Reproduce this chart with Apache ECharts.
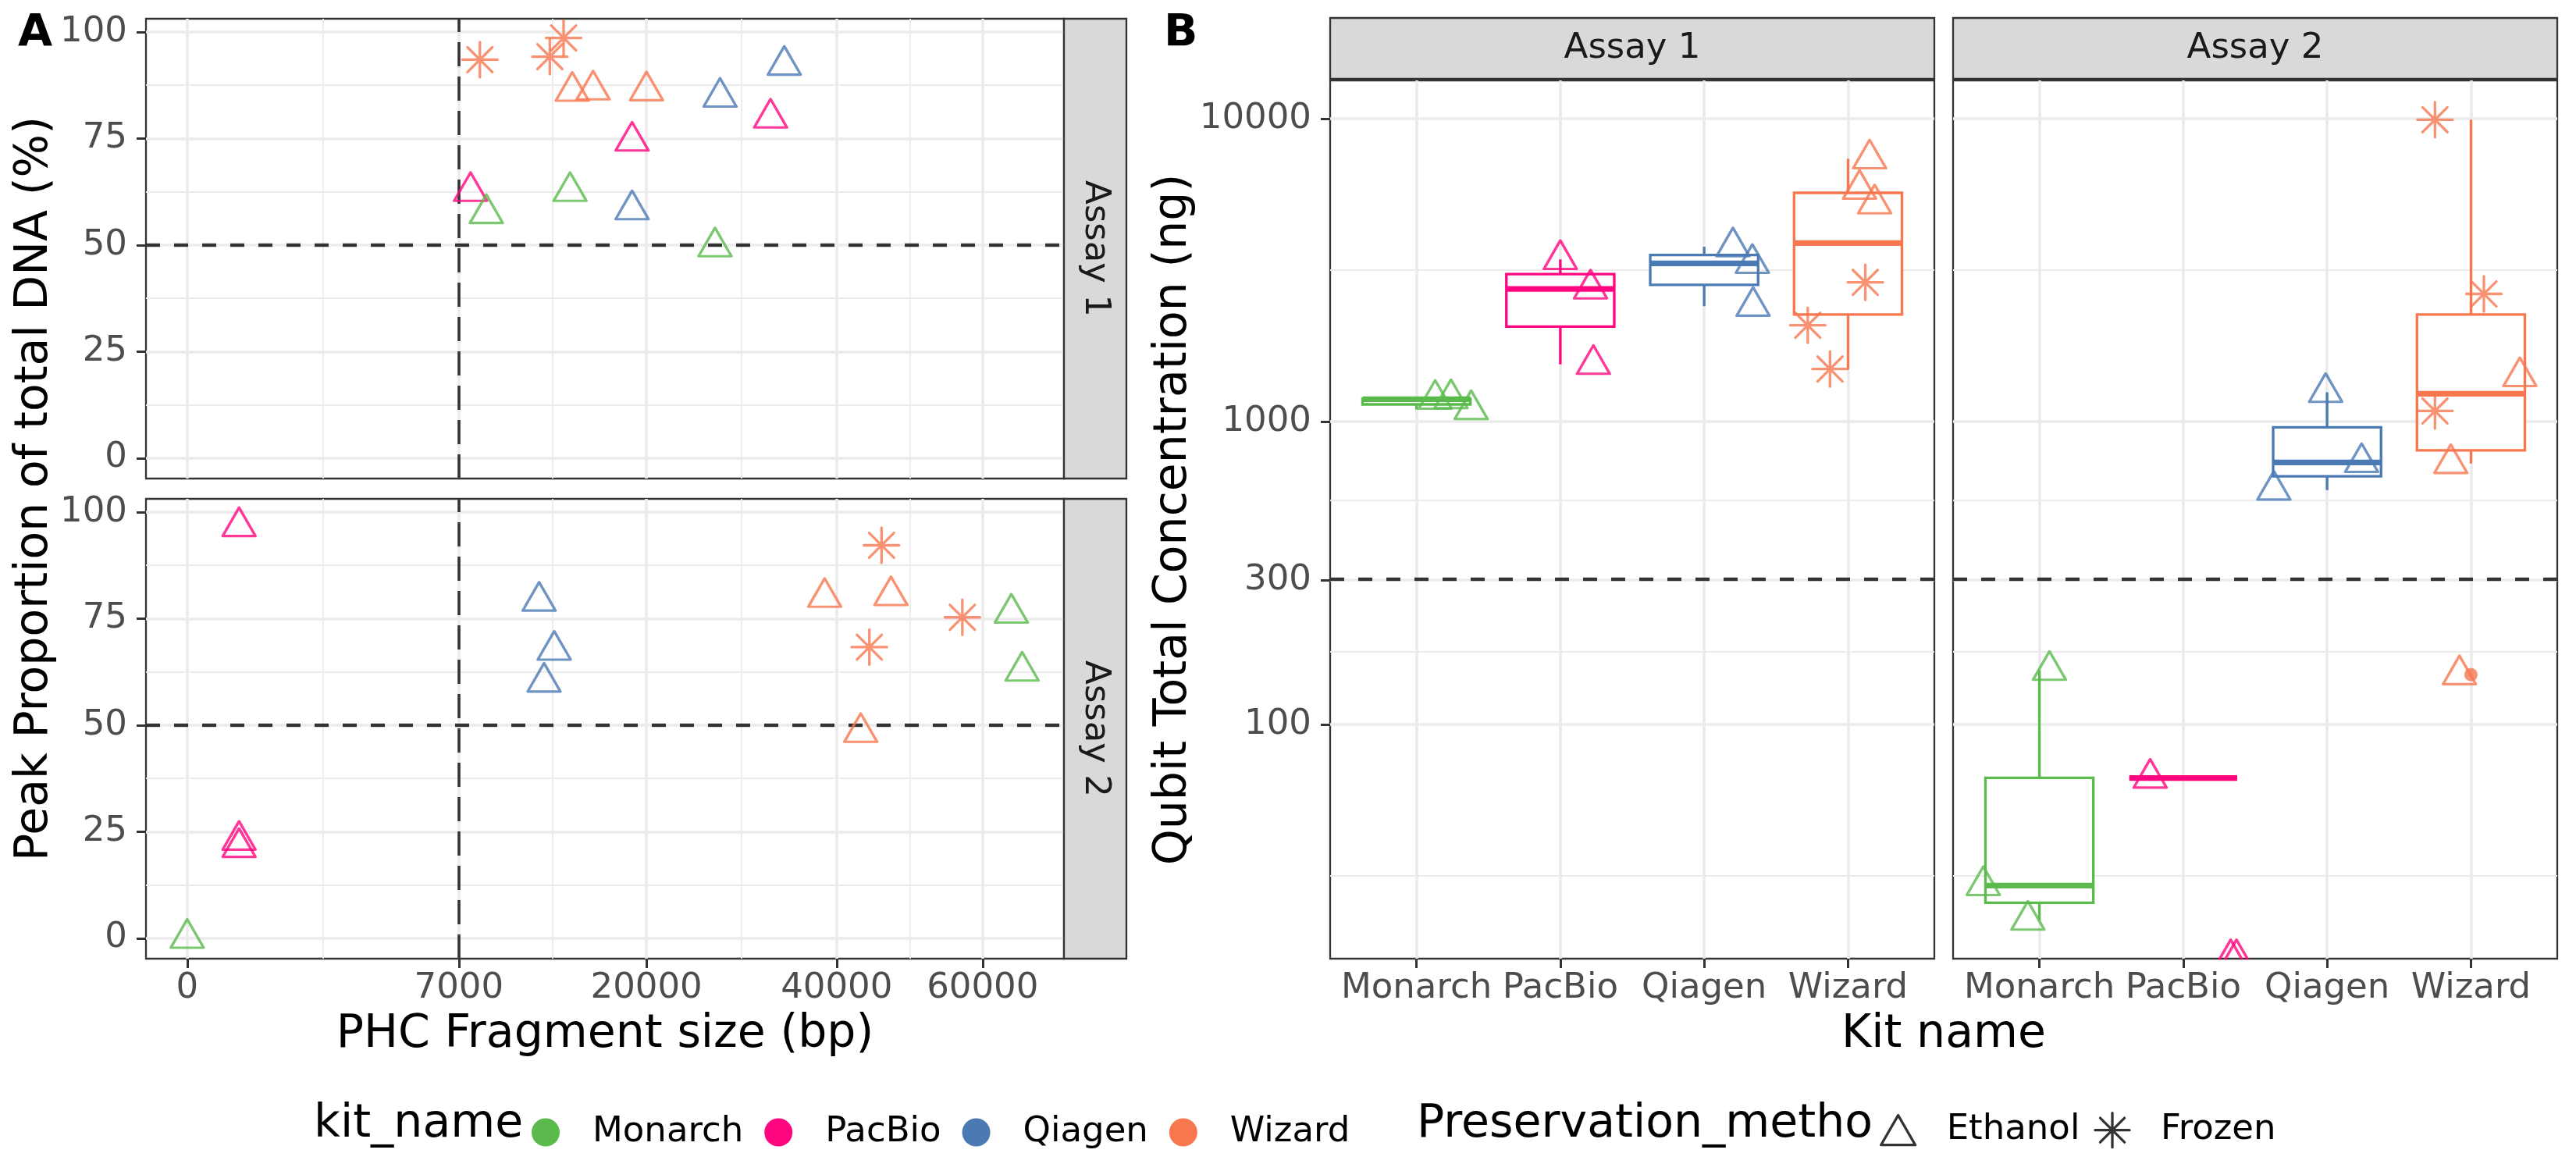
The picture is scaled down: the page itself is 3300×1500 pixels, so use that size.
<!DOCTYPE html>
<html><head><meta charset="utf-8">
<script src="https://cdn.jsdelivr.net/npm/echarts@6/dist/echarts.min.js"></script>
<style>html,body{margin:0;padding:0;background:#fff}#chart{width:3300px;height:1500px}</style>
</head><body><div id="chart"></div>
<script>
// ---------------- data ----------------
const kitNames = ['Monarch', 'PacBio', 'Qiagen', 'Wizard'];
const assayNames = ['Assay 1', 'Assay 2'];
const methodNames = ['Ethanol', 'Frozen'];

// Panel A: peak fragment size vs peak proportion
const fragAssay = [1,1,1,1,1,1,1,1,1,1,1,1,1,1,1, 2,2,2,2,2,2,2,2,2,2,2,2,2,2,2];
const fragKit = ['Wizard','Wizard','Wizard','Wizard','Wizard','Wizard','Qiagen','Qiagen','Qiagen','PacBio','PacBio','PacBio','Monarch','Monarch','Monarch',
                 'PacBio','PacBio','PacBio','Monarch','Qiagen','Qiagen','Qiagen','Wizard','Wizard','Wizard','Wizard','Wizard','Wizard','Monarch','Monarch'];
const fragMethod = ['Frozen','Frozen','Frozen','Ethanol','Ethanol','Ethanol','Ethanol','Ethanol','Ethanol','Ethanol','Ethanol','Ethanol','Ethanol','Ethanol','Ethanol',
                    'Ethanol','Ethanol','Ethanol','Ethanol','Ethanol','Ethanol','Ethanol','Ethanol','Ethanol','Ethanol','Frozen','Frozen','Frozen','Ethanol','Ethanol'];
const fragSizeBp = [8125,12470,13436,14060,15625,20005,26925,33810,18770,32270,18770,7614,8486,13900,26415,
                    255,255,255,0,11744,12774,12077,38534,46970,43020,45720,44130,56980,64410,66110];
const fragPeakPct = [93.5,94.2,98.6,86.1,86.4,86.2,84.7,92.2,58.3,79.8,74.4,62.6,57.4,62.6,49.6,
                     96.6,23.0,21.3,0,79.1,67.6,60.1,80.0,80.4,48.3,92.2,68.3,75.3,76.3,62.7];
const fragTicks = [0, 7000, 20000, 40000, 60000];
const peakTicks = [0, 25, 50, 75, 100];
const fragThreshold = 7000;
const peakThreshold = 50;

// Panel B: Qubit concentration per kit (0 = below detection, drawn at -Inf)
const qubitAssay = [1,1,1, 1,1,1, 1,1,1, 1,1,1,1,1,1, 2,2,2, 2,2,2, 2,2,2, 2,2,2,2,2,2];
const qubitKit = ['Monarch','Monarch','Monarch','PacBio','PacBio','PacBio','Qiagen','Qiagen','Qiagen','Wizard','Wizard','Wizard','Wizard','Wizard','Wizard',
                  'Monarch','Monarch','Monarch','PacBio','PacBio','PacBio','Qiagen','Qiagen','Qiagen','Wizard','Wizard','Wizard','Wizard','Wizard','Wizard'];
const qubitMethod = ['Ethanol','Ethanol','Ethanol','Ethanol','Ethanol','Ethanol','Ethanol','Ethanol','Ethanol','Ethanol','Ethanol','Ethanol','Frozen','Frozen','Frozen',
                     'Ethanol','Ethanol','Ethanol','Ethanol','Ethanol','Ethanol','Ethanol','Ethanol','Ethanol','Frozen','Frozen','Ethanol','Frozen','Ethanol','Ethanol'];
const qubitConcNg = [1185,1191,1096, 3430,2742,1545, 3777,3330,2403, 7371,5851,5236,2881,2079,1491,
                     151,29.4,22.6, 66.5,0,0, 1249,733,594, 9920,2639,1408,1084,727,146];
const qubitJitter = [0.13,0.24,0.38, 0.00,0.21,0.23, 0.20,0.335,0.34, 0.15,0.08,0.185,0.12,-0.28,-0.125,
                     0.07,-0.39,-0.08, -0.23,0.33,0.37, -0.01,0.24,-0.37, -0.25,0.09,0.34,-0.25,-0.14,-0.08];
const concTicks = [100, 300, 1000, 10000];
const concMinorTicks = [31.6, 173.2, 547.7, 3162.3];
const concThreshold = 300;

// ---------------- styles / layout ----------------
const FONT = 'DejaVu Sans';
const kitColors = ['#5ABA4C', '#FF0580', '#4B79B4', '#F8774F'];
const GRID_A = [{left:187, top:24, width:1176, height:589}, {left:187, top:639, width:1176, height:589}];
const GRID_B = [{left:1704, top:103, width:774, height:1125}, {left:2502, top:103, width:774, height:1125}];
const fragRange = [-12.7, 270.0];     // sqrt(bp) scale
const peakRange = [-4.8, 103.1];
const concRange = [1.2268, 4.1263];   // log10(ng) scale
const kitRange = [0.4, 4.6];
const BOX_WIDTH = 0.75;
const STROKE = 3.3;
const TRI_SIZE = [42, 36.4];
const TITLE_SIZE = 58.5;
const AST_PATH = 'path://M0,-1L0,1M-1,0L1,0M-0.7071,-0.7071L0.7071,0.7071M-0.7071,0.7071L0.7071,-0.7071';
const TRI_PATH = 'path://M0,0.866L0.5,0L1,0.866Z';
const TRI_TOP_PATH = 'path://M0,1L0.57735,0L1.1547,1';
const GRID_MAJOR = {color:'#EBEBEB', width:3.6};
const GRID_MINOR = {color:'#EBEBEB', width:1.8, type:'solid'};
const TICK = {show:true, length:12, lineStyle:{color:'#333333', width:3}};
const LABEL = {show:true, fontSize:45, color:'#4D4D4D', fontFamily:FONT};

const kitColor = k => kitColors[kitNames.indexOf(k)];
const fragTickPos = fragTicks.map(Math.sqrt);
const fragMinorPos = fragTickPos.slice(1).map((v, i) => (v + fragTickPos[i]) / 2);
const peakMinor = peakTicks.slice(1).map((v, i) => (v + peakTicks[i]) / 2);
const concTickPos = concTicks.map(Math.log10);
const concMinorPos = concMinorTicks.map(Math.log10);

function symbolFor(method) {
  return method === 'Frozen'
    ? {symbol: AST_PATH, symbolSize: 45, symbolOffset: [0, 0]}
    : {symbol: 'triangle', symbolSize: TRI_SIZE, symbolOffset: [0, -TRI_SIZE[1] / 6]};
}

// type-7 quantile
function quantile(sorted, p) {
  const h = (sorted.length - 1) * p;
  const lo = Math.floor(h);
  const hi = Math.min(lo + 1, sorted.length - 1);
  return sorted[lo] + (h - lo) * (sorted[hi] - sorted[lo]);
}
function boxStats(vals) {
  const s = vals.slice().sort((a, b) => a - b);
  const q1 = quantile(s, 0.25), med = quantile(s, 0.5), q3 = quantile(s, 0.75);
  const iqr = q3 - q1;
  const inside = s.filter(v => v >= q1 - 1.5 * iqr && v <= q3 + 1.5 * iqr);
  return {lo: inside[0], q1, med, q3, hi: inside[inside.length - 1],
          out: s.filter(v => v < q1 - 1.5 * iqr || v > q3 + 1.5 * iqr)};
}

function valAxis(o) {
  return Object.assign({
    type: 'value', axisLine: {show: false, onZero: false}, axisTick: {show: false}, axisLabel: {show: false},
    splitLine: {show: false}
  }, o);
}
function minorGrid(items) {
  return {silent: true, symbol: ['none', 'none'], label: {show: false}, z: 1, animation: false,
    lineStyle: GRID_MINOR, emphasis: {disabled: true}, data: items};
}

const grids = [...GRID_A, ...GRID_B].map(g => Object.assign({
  show: true, borderColor: '#333333', borderWidth: 2.3
}, g));

const fragFmt = v => { const i = fragTickPos.findIndex(t => Math.abs(t - v) < 1e-6); return i >= 0 ? String(fragTicks[i]) : ''; };
const xAxes = [];
const yAxes = [];
for (let g = 0; g < 2; g++) {
  const bottom = g === 1;
  const xa = valAxis({gridIndex: g, min: fragRange[0], max: fragRange[1], position: 'bottom',
    axisTick: Object.assign({}, TICK, {show: bottom, customValues: fragTickPos}),
    axisLabel: Object.assign({}, LABEL, {show: bottom, customValues: fragTickPos, formatter: fragFmt, margin: 38, verticalAlign: 'middle'}),
    splitLine: {show: true, lineStyle: GRID_MAJOR}});
  if (bottom) Object.assign(xa, {name: 'PHC Fragment size (bp)', nameLocation: 'middle', nameGap: 98,
    nameTextStyle: {fontSize: TITLE_SIZE, color: '#000', fontFamily: FONT, verticalAlign: 'middle'}});
  xAxes.push(xa);
  yAxes.push(valAxis({gridIndex: g, min: peakRange[0], max: peakRange[1], position: 'left',
    axisTick: Object.assign({}, TICK, {customValues: peakTicks}),
    axisLabel: Object.assign({}, LABEL, {customValues: peakTicks, margin: 24}),
    splitLine: {show: true, lineStyle: GRID_MAJOR}}));
}
const kitPos = kitNames.map((k, i) => i + 1);
for (let g = 0; g < 2; g++) {
  xAxes.push(valAxis({gridIndex: 2 + g, min: kitRange[0], max: kitRange[1], position: 'bottom',
    axisTick: Object.assign({}, TICK, {customValues: kitPos}),
    axisLabel: Object.assign({}, LABEL, {customValues: kitPos, formatter: v => kitNames[Math.round(v) - 1], margin: 38, verticalAlign: 'middle'}),
    splitLine: {show: true, lineStyle: GRID_MAJOR}}));
  const ya = valAxis({gridIndex: 2 + g, min: concRange[0], max: concRange[1], position: 'left',
    axisTick: Object.assign({}, TICK, {show: g === 0, customValues: concTickPos}),
    axisLabel: Object.assign({}, LABEL, {show: g === 0, customValues: concTickPos, margin: 24,
      formatter: v => String(Math.round(Math.pow(10, v)))}),
    splitLine: {show: true, lineStyle: GRID_MAJOR}});
  if (g === 0) Object.assign(ya, {name: 'Qubit Total Concentration (ng)', nameLocation: 'middle', nameGap: 193,
    nameTextStyle: {fontSize: TITLE_SIZE, color: '#000', fontFamily: FONT, verticalAlign: 'middle'}});
  yAxes.push(ya);
}
// axis indices: A1 0, A2 1, B1 2, B2 3

const pointStyle = {color: 'rgba(0,0,0,0)', borderWidth: STROKE, borderJoin: 'round', borderCap: 'round'};
const series = [];

// Panel A scatter
for (let g = 0; g < 2; g++) {
  methodNames.forEach((m, mi) => {
    const data = [];
    fragSizeBp.forEach((bp, i) => {
      if (fragAssay[i] === g + 1 && fragMethod[i] === m) {
        data.push({value: [Math.sqrt(bp), fragPeakPct[i]], itemStyle: {borderColor: kitColor(fragKit[i])}});
      }
    });
    const s = Object.assign({type: 'scatter', name: m, xAxisIndex: g, yAxisIndex: g, data,
      itemStyle: pointStyle, silent: true, z: 3}, symbolFor(m));
    if (mi === 0) {
      s.markLine = {silent: true, symbol: ['none', 'none'], label: {show: false}, z: 2,
        data: [
          {xAxis: Math.sqrt(fragThreshold), lineStyle: {color: '#333333', width: 3.6, type: [31, 13]}},
          {yAxis: peakThreshold, lineStyle: {color: '#333333', width: 4.4, type: [18, 18]}}
        ]};
    } else {
      s.markLine = minorGrid([...fragMinorPos.map(v => ({xAxis: v})), ...peakMinor.map(v => ({yAxis: v}))]);
    }
    series.push(s);
  });
}

// Panel B boxplots
function renderBox(params, api) {
  const x = api.value(0);
  const color = api.visual('color');
  const half = api.size([BOX_WIDTH, 0])[0] / 2;
  const pLo = api.coord([x, api.value(1)]), pQ1 = api.coord([x, api.value(2)]);
  const pMed = api.coord([x, api.value(3)]), pQ3 = api.coord([x, api.value(4)]);
  const pHi = api.coord([x, api.value(5)]);
  const ls = {stroke: color, lineWidth: STROKE};
  return {type: 'group', children: [
    {type: 'line', shape: {x1: pLo[0], y1: pLo[1], x2: pQ1[0], y2: pQ1[1]}, style: ls},
    {type: 'line', shape: {x1: pQ3[0], y1: pQ3[1], x2: pHi[0], y2: pHi[1]}, style: ls},
    {type: 'rect', shape: {x: pQ3[0] - half, y: pQ3[1], width: 2 * half, height: pQ1[1] - pQ3[1]},
     style: {fill: '#fff', stroke: color, lineWidth: STROKE}},
    {type: 'line', shape: {x1: pMed[0] - half, y1: pMed[1], x2: pMed[0] + half, y2: pMed[1]},
     style: {stroke: color, lineWidth: 2.2 * STROKE}}
  ]};
}
for (let g = 0; g < 2; g++) {
  kitNames.forEach((k, ki) => {
    const logs = [];
    qubitConcNg.forEach((c, i) => {
      if (qubitAssay[i] === g + 1 && qubitKit[i] === k && c > 0) logs.push(Math.log10(c));
    });
    const st = boxStats(logs);
    const bs = {type: 'custom', name: k, xAxisIndex: 2 + g, yAxisIndex: 2 + g, silent: true, z: 2,
      itemStyle: {color: kitColors[ki]}, renderItem: renderBox,
      encode: {x: 0, y: [1, 2, 3, 4, 5]},
      data: [[ki + 1, st.lo, st.q1, st.med, st.q3, st.hi]]};
    if (ki === 0) bs.markLine = minorGrid(concMinorPos.map(v => ({yAxis: v})));
    series.push(bs);
    if (st.out.length) {
      series.push({type: 'scatter', name: k, xAxisIndex: 2 + g, yAxisIndex: 2 + g, silent: true, z: 2,
        symbol: 'circle', symbolSize: 17, itemStyle: {color: kitColors[ki]},
        data: st.out.map(v => [ki + 1, v])});
    }
  });
}
// Panel B jittered points
for (let g = 0; g < 2; g++) {
  methodNames.forEach((m, mi) => {
    const data = [];
    qubitConcNg.forEach((c, i) => {
      if (qubitAssay[i] === g + 1 && qubitMethod[i] === m) {
        const x = kitNames.indexOf(qubitKit[i]) + 1 + qubitJitter[i];
        const item = {value: [x, c > 0 ? Math.log10(c) : concRange[0]], itemStyle: {borderColor: kitColor(qubitKit[i])}};
        if (!(c > 0)) {   // -Inf: only upper part of the symbol is inside the panel
          Object.assign(item, {symbol: TRI_TOP_PATH, symbolSize: [28, 24.3], symbolOffset: [0, -12.15]});
        }
        data.push(item);
      }
    });
    const s = Object.assign({type: 'scatter', name: m, xAxisIndex: 2 + g, yAxisIndex: 2 + g, data,
      itemStyle: pointStyle, silent: true, z: 3}, symbolFor(m));
    if (mi === 0) {
      s.markLine = {silent: true, symbol: ['none', 'none'], label: {show: false}, z: 2,
        data: [{yAxis: Math.log10(concThreshold), lineStyle: {color: '#333333', width: 4.4, type: [18, 18]}}]};
    }
    series.push(s);
  });
}

// ---------------- graphic (strips, tags, titles) ----------------
const stripStyle = {fill: '#D9D9D9', stroke: '#333333', lineWidth: 2.3};
const stripText = {fontSize: 45, fontFamily: FONT, fill: '#1A1A1A', align: 'center', verticalAlign: 'middle'};
const graphic = [];
GRID_A.forEach((g, i) => {
  graphic.push({type: 'rect', shape: {x: g.left + g.width, y: g.top, width: 80, height: g.height}, style: stripStyle, z: 10});
  graphic.push({type: 'text', x: g.left + g.width + 40, y: g.top + g.height / 2, rotation: -Math.PI / 2,
    style: Object.assign({text: assayNames[i]}, stripText), z: 11});
});
GRID_B.forEach((g, i) => {
  graphic.push({type: 'rect', shape: {x: g.left, y: 23, width: g.width, height: 78}, style: stripStyle, z: 10});
  graphic.push({type: 'text', x: g.left + g.width / 2, y: 62, style: Object.assign({text: assayNames[i]}, stripText), z: 11});
});
const titleStyle = {fontSize: TITLE_SIZE, fontFamily: FONT, fill: '#000', align: 'center', verticalAlign: 'middle'};
graphic.push({type: 'text', x: 45, y: 626, rotation: Math.PI / 2, style: Object.assign({text: 'Peak Proportion of total DNA (%)'}, titleStyle)});
graphic.push({type: 'text', x: 2490, y: 1326, style: Object.assign({text: 'Kit name'}, titleStyle)});
graphic.push({type: 'text', x: 23, y: 44, style: {text: 'A', fontSize: 57, fontWeight: 'bold', fontFamily: FONT, fill: '#000', align: 'left', verticalAlign: 'middle'}});
graphic.push({type: 'text', x: 1491, y: 44, style: {text: 'B', fontSize: 57, fontWeight: 'bold', fontFamily: FONT, fill: '#000', align: 'left', verticalAlign: 'middle'}});
graphic.push({type: 'text', x: 402, y: 1441, style: Object.assign({}, titleStyle, {text: 'kit_name', align: 'left'})});
graphic.push({type: 'text', x: 1815, y: 1441, style: Object.assign({}, titleStyle, {text: 'Preservation_metho', align: 'left'})});

const legendText = {fontFamily: FONT, fontSize: 45, color: '#000'};
const option = {
  animation: false,
  textStyle: {fontFamily: FONT},
  grid: grids,
  xAxis: xAxes,
  yAxis: yAxes,
  legend: [
    {left: 676, top: 1423, orient: 'horizontal', itemWidth: 36, itemHeight: 36, itemGap: 27, selectedMode: false,
     textStyle: Object.assign({padding: [0, 0, 0, 37]}, legendText),
     data: kitNames.map((k, i) => ({name: k, icon: 'circle', itemStyle: {color: kitColors[i], borderWidth: 0}}))},
    {left: 2403, top: 1419, orient: 'horizontal', itemWidth: 44, itemHeight: 44, itemGap: 18, selectedMode: false,
     textStyle: Object.assign({padding: [0, 0, 0, 35]}, legendText),
     data: [
       {name: 'Ethanol', icon: TRI_PATH, itemStyle: {color: 'rgba(0,0,0,0)', borderColor: '#000', borderWidth: STROKE}},
       {name: 'Frozen', icon: AST_PATH, itemStyle: {color: 'rgba(0,0,0,0)', borderColor: '#000', borderWidth: STROKE}}
     ]}
  ],
  graphic: graphic,
  series: series
};
const chart = echarts.init(document.getElementById('chart'), null, {renderer: 'canvas', width: 3300, height: 1500});
chart.setOption(option);
</script></body></html>
